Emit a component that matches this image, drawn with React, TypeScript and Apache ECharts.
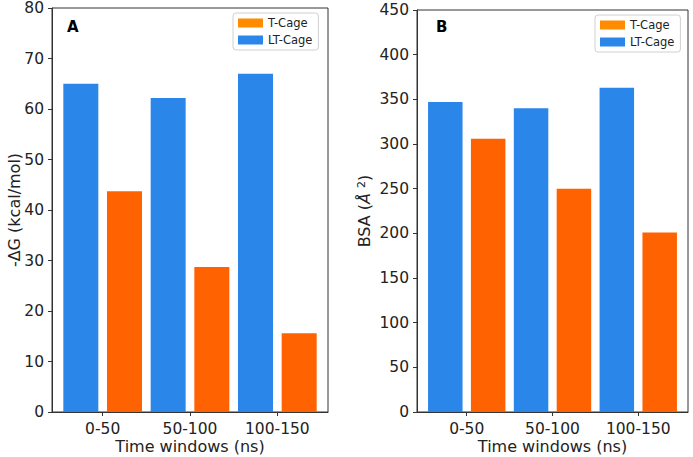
import React, { useEffect, useRef } from "react";
import * as echarts from "echarts";

const categories = ["0-50", "50-100", "100-150"];
const dgTCage = [43.7, 28.7, 15.6];
const dgLTCage = [65.0, 62.2, 67.0];
const bsaTCage = [306, 250, 201];
const bsaLTCage = [347, 340, 363];

const BLUE = "#2B86EA";
const ORANGE = "#FF6200";
const LEGEND_ORANGE = "#FF8C00";
const FONT = "DejaVu Sans";
const INK = "#222";

// bars sit a quarter of a category to each side of the tick
const toPoints = (vals: number[], shift: number) => vals.map((v, i) => [i + shift, v]);

const xAxisFor = (gridIndex: number) => ({
  type: "value" as const,
  gridIndex,
  min: -0.58,
  max: 2.58,
  splitLine: { show: false },
  axisLine: { show: true, onZero: false, lineStyle: { color: "#333" } },
  axisTick: { show: true, length: 4, customValues: [0, 1, 2], lineStyle: { color: "#333" } },
  axisLabel: {
    customValues: [0, 1, 2],
    formatter: (v: number) => categories[Math.round(v)] ?? "",
    fontFamily: FONT,
    fontSize: 15.5,
    color: INK,
    margin: 9,
  },
  name: "Time windows (ns)",
  nameLocation: "middle" as const,
  nameGap: 26,
  nameMoveOverlap: false,
  nameTextStyle: { fontFamily: FONT, fontSize: 16, color: INK, lineHeight: 16 },
});

const yAxisFor = (gridIndex: number, max: number, interval: number, name: string, nameGap: number) => ({
  type: "value" as const,
  gridIndex,
  min: 0,
  max,
  interval,
  splitLine: { show: false },
  axisLine: { show: true, onZero: false, lineStyle: { color: "#333" } },
  axisTick: { show: true, length: 4, lineStyle: { color: "#333" } },
  axisLabel: { fontFamily: FONT, fontSize: 15.5, lineHeight: 14, color: INK, margin: 8 },
  name,
  nameLocation: "middle" as const,
  nameGap,
  nameMoveOverlap: false,
  nameTextStyle: {
    fontFamily: FONT,
    fontSize: 16,
    color: INK,
    rich: {
      i: { fontFamily: FONT, fontSize: 16, fontStyle: "italic", color: INK },
      s: { fontFamily: FONT, fontSize: 11, color: INK, verticalAlign: "top" },
    },
  },
});

const legendFor = (left: number, top: number) => ({
  left,
  top,
  orient: "vertical" as const,
  icon: "rect",
  itemWidth: 25,
  itemHeight: 9,
  itemGap: 3,
  padding: [3, 6, 3, 5],
  borderColor: "#d0d0d0",
  borderWidth: 1,
  borderRadius: 3,
  backgroundColor: "#fff",
  textStyle: { fontFamily: FONT, fontSize: 11.5, color: INK, lineHeight: 14 },
  data: [{ name: "T-Cage", itemStyle: { color: LEGEND_ORANGE } }, { name: "LT-Cage" }],
});

const barSeries = (name: string, color: string, vals: number[], shift: number, axis: number, width: number) => ({
  name,
  type: "bar" as const,
  xAxisIndex: axis,
  yAxisIndex: axis,
  data: toPoints(vals, shift),
  barWidth: width,
  barGap: "-100%",
  itemStyle: { color },
});

const App = () => {
  const chartRef = useRef<HTMLDivElement>(null);

  useEffect(() => {
    document.body.style.margin = "0";
    if (!chartRef.current) return;
    const chart = echarts.init(chartRef.current, null, { renderer: "svg" });

    const option: echarts.EChartsOption = {
      animation: false,
      backgroundColor: "#fff",
      title: [
        { text: "A", left: 67, top: 19, padding: 0, textStyle: { fontFamily: FONT, fontSize: 15, fontWeight: "bold", color: "#000" } },
        { text: "B", left: 436, top: 19, padding: 0, textStyle: { fontFamily: FONT, fontSize: 15, fontWeight: "bold", color: "#000" } },
      ],
      legend: [legendFor(233, 13), legendFor(595, 15)],
      grid: [
        { left: 52, right: 365, top: 8, bottom: 45, outerBoundsMode: "none", show: true, borderColor: "#333", borderWidth: 1 },
        { left: 417, right: 5, top: 10, bottom: 45, outerBoundsMode: "none", show: true, borderColor: "#333", borderWidth: 1 },
      ],
      xAxis: [xAxisFor(0), xAxisFor(1)],
      yAxis: [
        yAxisFor(0, 80, 10, "-ΔG (kcal/mol)", 30),
        yAxisFor(1, 450, 50, "BSA ({i|Å} {s|2})", 45),
      ],
      series: [
        barSeries("LT-Cage", BLUE, dgLTCage, -0.25, 0, 35),
        barSeries("T-Cage", ORANGE, dgTCage, 0.25, 0, 35),
        barSeries("LT-Cage", BLUE, bsaLTCage, -0.25, 1, 34.5),
        barSeries("T-Cage", ORANGE, bsaTCage, 0.25, 1, 34.5),
      ],
    } as any;

    chart.setOption(option);
    return () => chart.dispose();
  }, []);

  return <div ref={chartRef} style={{ width: "693px", height: "457px" }} />;
};

export default App;
